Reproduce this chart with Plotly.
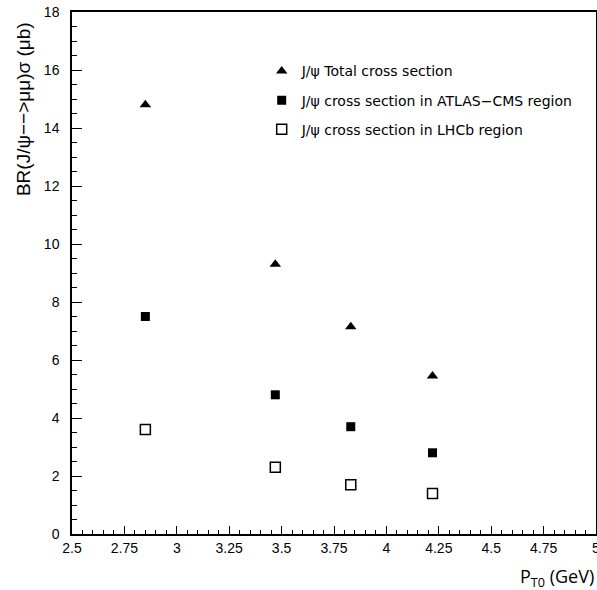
import plotly.graph_objects as go

pt0 = [2.85, 3.47, 3.83, 4.22]
total_xs = [14.8, 9.3, 7.15, 5.45]
atlas_cms_xs = [7.5, 4.8, 3.7, 2.8]
lhcb_xs = [3.6, 2.3, 1.7, 1.4]

names = ["J/\u03c8 Total cross section",
         "J/\u03c8 cross section in ATLAS\u2212CMS region",
         "J/\u03c8 cross section in LHCb region"]

fig = go.Figure()
fig.add_trace(go.Scatter(x=pt0, y=total_xs, mode="markers", name=names[0], legendgroup="a",
                         marker=dict(symbol="triangle-up", size=10, color="black", line=dict(width=0))))
fig.add_trace(go.Scatter(x=pt0, y=atlas_cms_xs, mode="markers", name=names[1], legendgroup="b",
                         marker=dict(symbol="square", size=9, color="black", line=dict(width=0))))
fig.add_trace(go.Scatter(x=pt0, y=lhcb_xs, mode="markers", name=names[2], legendgroup="c",
                         marker=dict(symbol="square-open", size=10, color="black", line=dict(width=1.5))))

axis_common = dict(showline=True, linecolor="black", linewidth=1.5, mirror=True,
                   showgrid=False, zeroline=False, ticks="inside", tickcolor="black",
                   automargin=False, ticklabeloverflow="allow",
                   tickfont=dict(family="Liberation Sans", size=14, color="black"))

fig.update_xaxes(range=[2.5, 5], tick0=2.5, dtick=0.25, ticklen=8, tickwidth=1,
                 minor=dict(ticks="inside", dtick=0.05, ticklen=4, tickcolor="black", showgrid=False),
                 **axis_common)
fig.update_yaxes(range=[0, 18], tick0=0, dtick=2, ticklen=10, tickwidth=1, ticklabelstandoff=8,
                 minor=dict(ticks="inside", dtick=0.5, ticklen=5, tickcolor="black", showgrid=False),
                 **axis_common)

fig.add_annotation(text="BR(J/\u03c8\u2212\u2212>\u03bc\u03bc)\u03c3 (\u03bcb)", xref="paper", yref="paper",
                   x=-0.115, y=0.985, xanchor="left", yanchor="top", textangle=-90, showarrow=False,
                   font=dict(family="Liberation Sans", size=19, color="black"))
fig.add_annotation(text="P<sub>T0</sub> (GeV)", xref="paper", yref="paper",
                   x=1.0, y=-0.084, xanchor="right", yanchor="middle", showarrow=False,
                   font=dict(family="Open Sans", size=18, color="black"))

fig.update_layout(width=597, height=590, margin=dict(l=72, r=1, t=12, b=56),
                  paper_bgcolor="white", plot_bgcolor="white",
                  showlegend=True,
                  legend=dict(x=0.362, y=0.917, xanchor="left", yanchor="top",
                              bgcolor="rgba(0,0,0,0)", tracegroupgap=8,
                              font=dict(family="DejaVu Sans", size=14, color="black")))

fig.write_html("out.html", config={"displayModeBar": False},
               post_script="document.body.style.margin='0';document.body.style.overflow='hidden';")
